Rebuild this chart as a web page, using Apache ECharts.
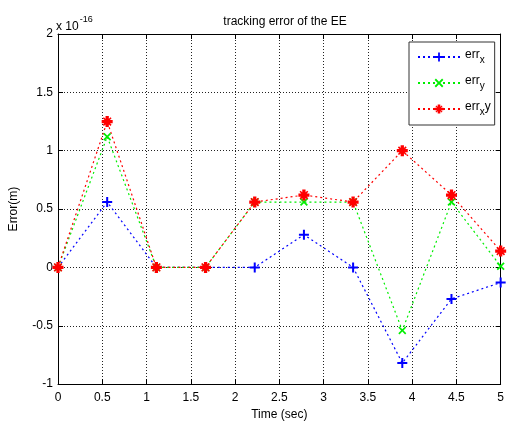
<!DOCTYPE html>
<html>
<head>
<meta charset="utf-8">
<script src="https://cdn.jsdelivr.net/npm/echarts@6/dist/echarts.min.js"></script>
<style>
  html, body { margin: 0; padding: 0; background: #fff; }
  #chart { width: 507px; height: 426px; }
</style>
</head>
<body>
<div id="chart"></div>
<script>
// Sample times (sec) and per-axis tracking error (units of 1e-16 m)
const timeSec = [0, 0.5556, 1.1111, 1.6667, 2.2222, 2.7778, 3.3333, 3.8889, 4.4444, 5];
const errX  = [0, 0.56, 0, 0, 0, 0.28, 0, -0.82, -0.27, -0.13];
const errY  = [0, 1.12, 0, 0, 0.56, 0.56, 0.56, -0.54, 0.56, 0.01];
const errXY = [0, 1.25, 0, 0, 0.56, 0.62, 0.56, 1.0, 0.62, 0.14];
const seriesNames = ['err_x', 'err_y', 'err_xy'];
const xTicks = { min: 0, max: 5, step: 0.5 };
const yTicks = { min: -1, max: 2, step: 0.5 };

const FONT = 'Arial, "Liberation Sans", sans-serif';

// MATLAB-like marker glyphs as filled paths: '+', 'x' and '*'
const PLUS = 'path://M4,0H6V4H10V6H6V10H4V6H0V4H4Z';
const CROSS = 'path://M0,1.5L1.5,0L5,3.5L8.5,0L10,1.5L6.5,5L10,8.5L8.5,10L5,6.5L1.5,10L0,8.5L3.5,5Z';
const STAR = 'path://M3.5,0H6.5V3.5H10V6.5H6.5V10H3.5V6.5H0V3.5H3.5Z' +
             'M1,2L2,1L9,8L8,9Z M8,1L9,2L2,9L1,8Z';

function pairs(ys) { return timeSec.map((t, i) => [t, ys[i]]); }

function lineSeries(name, ys, color, symbol, size) {
  return {
    name: name,
    type: 'line',
    data: pairs(ys),
    symbol: symbol,
    symbolSize: size,
    showAllSymbol: true,
    animation: false,
    lineStyle: { color: color, width: 1.2, type: [2, 3] },
    itemStyle: { color: color },
    emphasis: { disabled: true }
  };
}

const gridLine = { show: true, lineStyle: { color: '#222', width: 1, type: [1, 2] } };

const chart = echarts.init(document.getElementById('chart'), null, { renderer: 'canvas' });
chart.setOption({
  backgroundColor: '#fff',
  animation: false,
  title: [
    {
      text: 'tracking error of the EE',
      left: 280, textAlign: 'center', top: 11,
      textStyle: { fontFamily: FONT, fontSize: 12, fontWeight: 'normal', color: '#000' }
    },
    {
      text: '{a|x 10}{b|-16}',
      left: 51, top: 8,
      textStyle: {
        fontFamily: FONT, fontWeight: 'normal', color: '#000',
        rich: {
          a: { fontFamily: FONT, fontSize: 12, fontWeight: 'normal', color: '#000', padding: [8, 0, 0, 0] },
          b: { fontFamily: FONT, fontSize: 9, fontWeight: 'normal', color: '#000', padding: [0, 0, 6, 1] }
        }
      }
    }
  ],
  grid: { left: 57, right: 4, top: 34, bottom: 39, containLabel: false },
  legend: {
    data: seriesNames,
    orient: 'vertical',
    left: 409, top: 42,
    padding: [7, 4, 8, 8],
    itemGap: 10,
    itemWidth: 42, itemHeight: 11,
    backgroundColor: '#fff',
    borderColor: '#333', borderWidth: 1,
    formatter: function (name) {
      if (name === 'err_x') return '{n|err}{s|x}';
      if (name === 'err_y') return '{n|err}{s|y}';
      return '{n|err}{s|x}{n|y}';
    },
    textStyle: {
      fontFamily: FONT, color: '#000', width: 30,
      rich: {
        n: { fontFamily: FONT, fontSize: 12, color: '#000', padding: [0, 0, 4, 0] },
        s: { fontFamily: FONT, fontSize: 10, color: '#000', padding: [6, 0, 0, 0] }
      }
    }
  },
  xAxis: [
    {
      type: 'value', min: xTicks.min, max: xTicks.max, interval: xTicks.step,
      name: 'Time (sec)', nameLocation: 'middle', nameGap: 20,
      nameTextStyle: { fontFamily: FONT, fontSize: 12, color: '#000' },
      axisLine: { onZero: false, lineStyle: { color: '#000', width: 1 } },
      axisTick: { inside: true, length: 5, lineStyle: { color: '#000' } },
      axisLabel: { fontFamily: FONT, fontSize: 12, color: '#000', margin: 8 },
      splitLine: gridLine
    },
    {
      type: 'value', position: 'top', min: xTicks.min, max: xTicks.max, interval: xTicks.step,
      axisLine: { onZero: false, lineStyle: { color: '#000', width: 1 } },
      axisTick: { inside: true, length: 5, lineStyle: { color: '#000' } },
      axisLabel: { show: false },
      splitLine: { show: false }
    }
  ],
  yAxis: [
    {
      type: 'value', min: yTicks.min, max: yTicks.max, interval: yTicks.step,
      name: 'Error(m)', nameLocation: 'middle', nameGap: 38,
      nameTextStyle: { fontFamily: FONT, fontSize: 12, color: '#000' },
      axisLine: { show: true, onZero: false, lineStyle: { color: '#000', width: 1 } },
      axisTick: { show: true, inside: true, length: 5, lineStyle: { color: '#000' } },
      axisLabel: { fontFamily: FONT, fontSize: 12, color: '#000', margin: 5 },
      splitLine: gridLine
    },
    {
      type: 'value', position: 'right', min: yTicks.min, max: yTicks.max, interval: yTicks.step,
      axisLine: { show: true, onZero: false, lineStyle: { color: '#000', width: 1 } },
      axisTick: { show: true, inside: true, length: 5, lineStyle: { color: '#000' } },
      axisLabel: { show: false },
      splitLine: { show: false }
    }
  ],
  series: [
    lineSeries(seriesNames[0], errX, '#0000ff', PLUS, 10),
    lineSeries(seriesNames[1], errY, '#00ee00', CROSS, 8),
    lineSeries(seriesNames[2], errXY, '#ff0000', STAR, 11)
  ]
});
</script>
</body>
</html>
